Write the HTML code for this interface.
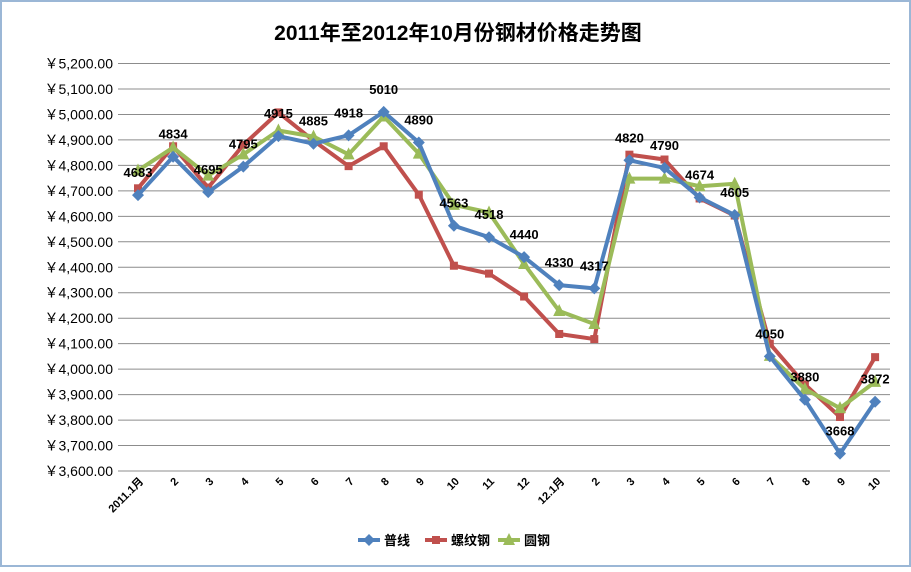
<!DOCTYPE html>
<html><head><meta charset="utf-8"><style>
body{margin:0;background:#fff;}
svg text{font-family:"Liberation Sans","Noto Sans CJK SC",sans-serif;}
</style></head><body>
<svg id="chart" width="911" height="567" xmlns="http://www.w3.org/2000/svg">
<rect x="1" y="1" width="909" height="565" fill="#fff" stroke="#9bb7d6" stroke-width="2"/>
<text x="458" y="40" text-anchor="middle" font-size="21" font-weight="bold" fill="#000">2011年至2012年10月份钢材价格走势图</text>
<g id="grid"></g><g id="ylabels"></g><g id="xlabels"></g><g id="series"></g><g id="labels"></g>
<g id="legend"></g>
</svg>
<script>
const categories=["2011.1月","2","3","4","5","6","7","8","9","10","11","12","12.1月","2","3","4","5","6","7","8","9","10"];
const seriesNames=["普线","螺纹钢","圆钢"];
const puxian=[4683,4834,4695,4795,4915,4885,4918,5010,4890,4563,4518,4440,4330,4317,4820,4790,4674,4605,4050,3880,3668,3872];
const luowen=[4710,4875,4713,4880,5008,4897,4797,4875,4685,4406,4375,4285,4138,4118,4842,4823,4670,4603,4100,3940,3812,4047];
const yuangang=[4780,4870,4760,4843,4937,4913,4843,4992,4846,4645,4615,4413,4228,4177,4748,4748,4718,4728,4052,3922,3847,3950];
const yTicks=[3600,3700,3800,3900,4000,4100,4200,4300,4400,4500,4600,4700,4800,4900,5000,5100,5200];
const NS="http://www.w3.org/2000/svg";
const x0=138,xStep=35.1,yTop=63.5,yBot=471,vMin=3600,vMax=5200;
function xs(i){return x0+i*xStep;}
function ys(v){return yBot-(v-vMin)/(vMax-vMin)*(yBot-yTop);}
function mk(tag,attrs,parent){const e=document.createElementNS(NS,tag);for(const k in attrs)e.setAttribute(k,attrs[k]);parent.appendChild(e);return e;}
const grid=document.getElementById('grid'),yl=document.getElementById('ylabels'),xl=document.getElementById('xlabels');
yTicks.forEach(v=>{
  const l=mk('line',{x1:118,x2:890,y1:ys(v),y2:ys(v),stroke:'#8c8c8c','stroke-width':1},grid);
  
  
  const t=mk('text',{x:113,y:ys(v)+5,'text-anchor':'end','font-size':14,fill:'#000'},yl);
  t.textContent='￥'+v.toLocaleString('en-US')+'.00';
  
  
});
categories.forEach((c,i)=>{
  const t=mk('text',{x:xs(i)+6,y:482,'text-anchor':'end','font-size':11,'font-weight':'bold',fill:'#000',transform:`rotate(-45 ${xs(i)+6} 482)`},xl);
  t.textContent=c;
  
  
});
const sg=document.getElementById('series');
const allSeries=[[luowen,'#c0504d','square'],[yuangang,'#9bbb59','tri'],[puxian,'#4f81bd','diamond']];
function marker(shape,cx,cy,col,parent){
  let e;
  if(shape==='square')e=mk('rect',{x:cx-4,y:cy-4,width:8,height:8,fill:col},parent);
  else if(shape==='tri')e=mk('polygon',{points:`${cx},${cy-7} ${cx-6},${cy+5} ${cx+6},${cy+5}`,fill:col},parent);
  else e=mk('polygon',{points:`${cx},${cy-6} ${cx+6},${cy} ${cx},${cy+6} ${cx-6},${cy}`,fill:col},parent);
  return e;
}
allSeries.forEach(([data,col,shape])=>{
  const p=mk('polyline',{points:data.map((v,i)=>xs(i)+','+ys(v)).join(' '),fill:'none',stroke:col,'stroke-width':4,'stroke-linejoin':'round'},sg);
  
  
  data.forEach((v,i)=>{
    const m=marker(shape,xs(i),ys(v),col,sg);
    
    
  });
});
const lg=document.getElementById('labels');
puxian.forEach((v,i)=>{
  const t=mk('text',{x:xs(i),y:ys(v)-18,'text-anchor':'middle','font-size':13,'font-weight':'bold',fill:'#000'},lg);
  t.textContent=v;
  
  
});
const leg=document.getElementById('legend');
const legX=[358,425,498],legCols=['#4f81bd','#c0504d','#9bbb59'],legShapes=['diamond','square','tri'];
seriesNames.forEach((n,i)=>{
  const g=mk('g',{},leg);
  
  
  mk('line',{x1:legX[i],x2:legX[i]+22,y1:540,y2:540,stroke:legCols[i],'stroke-width':4},g);
  marker(legShapes[i],legX[i]+11,540,legCols[i],g);
  const t=mk('text',{x:legX[i]+26,y:545,'font-size':13,'font-weight':'bold',fill:'#000'},g);
  t.textContent=n;
});
</script>
</body></html>
